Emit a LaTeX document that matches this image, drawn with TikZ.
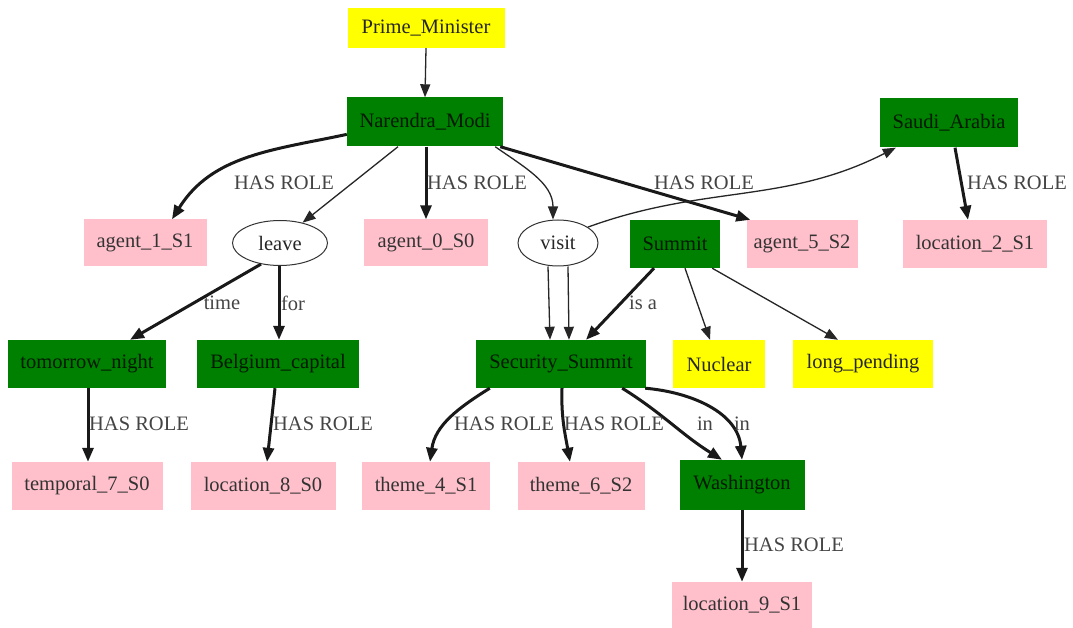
\documentclass[tikz,border=0pt]{standalone}
\usepackage{fontspec}
\setmainfont{Liberation Serif}
\newfontfamily\graphfont{Liberation Serif}
\usetikzlibrary{arrows.meta,shapes.geometric}
\definecolor{gnode}{RGB}{0,128,0}
\definecolor{pnode}{RGB}{255,192,203}
\definecolor{ynode}{RGB}{255,255,0}
\definecolor{lblgray}{RGB}{68,68,68}
\begin{document}
\begin{tikzpicture}[x=1pt,y=1pt,
  base/.style={inner sep=0pt, font=\graphfont\fontsize{20.5}{24}\selectfont, text=black!85},
  gbox/.style={base, rectangle, fill=gnode, text=black!90!green},
  pbox/.style={base, rectangle, fill=pnode, text=black!80},
  ybox/.style={base, rectangle, fill=ynode, text=black!85},
  oval/.style={base, ellipse, draw=black!80, line width=1pt, fill=white},
  lbl/.style={font=\graphfont\fontsize{20.5}{24}\selectfont, text=lblgray, inner sep=0pt},
  lightarrow/.style={draw=black!85, line width=1.3pt, -{Triangle[length=13pt,width=10pt]}},
  heavyarrow/.style={draw=black!90, line width=3pt, -{Triangle[length=14pt,width=11pt]}},
]
\useasboundingbox (0,0) rectangle (1073,-628);
\fill[white] (0,0) rectangle (1073,-628);

% nodes
\node[ybox, minimum width=157pt, minimum height=40pt] (pm) at (426,-28) {Prime\_Minister};
\node[gbox, minimum width=156pt, minimum height=49pt] (nm) at (425,-122) {Narendra\_Modi};
\node[gbox, minimum width=138pt, minimum height=49pt] (sa) at (949,-123) {Saudi\_Arabia};

\node[pbox, minimum width=123pt, minimum height=47pt] (a1) at (145,-243) {agent\_1\_S1};
\node[oval, minimum width=95pt, minimum height=45pt] (leave) at (280,-243) {leave};
\node[pbox, minimum width=124pt, minimum height=47pt] (a0) at (426,-243) {agent\_0\_S0};
\node[oval, minimum width=80pt, minimum height=46pt] (visit) at (558,-243) {visit};
\node[gbox, minimum width=90pt, minimum height=48pt] (summit) at (675,-244) {Summit};
\node[pbox, minimum width=111pt, minimum height=48pt] (a5) at (802,-244) {agent\_5\_S2};
\node[pbox, minimum width=144pt, minimum height=48pt] (l2) at (975,-244) {location\_2\_S1};

\node[gbox, minimum width=158pt, minimum height=48pt] (tn) at (87,-364) {tomorrow\_night};
\node[gbox, minimum width=162pt, minimum height=48pt] (bc) at (278,-364) {Belgium\_capital};
\node[gbox, minimum width=170pt, minimum height=48pt] (ss) at (561,-364) {Security\_Summit};
\node[ybox, minimum width=92pt, minimum height=48pt] (nuc) at (719,-364) {Nuclear};
\node[ybox, minimum width=140pt, minimum height=48pt] (lp) at (863,-364) {long\_pending};

\node[pbox, minimum width=151pt, minimum height=48pt] (t7) at (87,-486) {temporal\_7\_S0};
\node[pbox, minimum width=145pt, minimum height=48pt] (l8) at (263,-486) {location\_8\_S0};
\node[pbox, minimum width=128pt, minimum height=48pt] (t4) at (426,-486) {theme\_4\_S1};
\node[pbox, minimum width=127pt, minimum height=48pt] (t6) at (581,-486) {theme\_6\_S2};
\node[gbox, minimum width=125pt, minimum height=50pt] (wash) at (742,-485) {Washington};
\node[pbox, minimum width=140pt, minimum height=46pt] (l9) at (742,-605) {location\_9\_S1};

% connectors
\draw[lightarrow] (pm.south) -- (nm.north);
\draw[heavyarrow] (nm.189) to[out=192,in=58] ([xshift=27pt]a1.north);
\draw[lightarrow] ([xshift=-27pt]nm.south) -- (leave.42);
\draw[heavyarrow] ([xshift=1pt]nm.south) -- (a0.north);
\draw[lightarrow] ([xshift=-8pt]nm.south east) to[out=-35,in=90] ([xshift=-5pt]visit.north);
\draw[heavyarrow] ([xshift=-3pt]nm.south east) -- ([xshift=4pt]a5.north west);
\draw[lightarrow] (visit.28) to[out=20,in=207] ([xshift=16pt]sa.south west);
\draw[heavyarrow] ([xshift=6pt]sa.south) -- ([xshift=-7pt]l2.north);

\draw[heavyarrow] (leave.228) -- ([xshift=43pt]tn.north);
\draw[heavyarrow] ([xshift=-1pt]leave.south) -- ([xshift=1pt]bc.north);
\draw[lightarrow] ([xshift=-10pt]visit.south) -- ([xshift=-11pt]ss.north);
\draw[lightarrow] ([xshift=10pt]visit.south) -- ([xshift=8pt]ss.north);
\draw[heavyarrow] ([xshift=-21pt]summit.south) -- ([xshift=25pt]ss.north);
\draw[lightarrow] ([xshift=10pt]summit.south) -- ([xshift=-9pt]nuc.north);
\draw[lightarrow] ([xshift=-8pt]summit.south east) -- ([xshift=-25pt]lp.north);

\draw[heavyarrow] ([xshift=1pt]tn.south) -- ([xshift=1pt]t7.north);
\draw[heavyarrow] ([xshift=-3pt]bc.south) -- ([xshift=4pt]l8.north);
\draw[heavyarrow] ([xshift=14pt]ss.south west) to[out=212,in=82] ([xshift=4pt]t4.north);
\draw[heavyarrow] ([xshift=1pt]ss.south) to[out=-92,in=100] ([xshift=-11pt]t6.north);
\draw[heavyarrow] ([xshift=-24pt]ss.south east) to[out=-32,in=148] ([xshift=-20pt]wash.north);
\draw[heavyarrow] ([xshift=-1pt]ss.south east) to[out=-5,in=95] (wash.north);
\draw[heavyarrow] (wash.south) -- (l9.north);

% connector labels
\node[lbl] (r1) at (284,-183) {HAS ROLE};
\node[lbl] (r2) at (477,-183) {HAS ROLE};
\node[lbl] (r3) at (704,-183) {HAS ROLE};
\node[lbl] (r4) at (1017,-183) {HAS ROLE};
\node[lbl] (time) at (222,-303) {time};
\node[lbl] (for) at (293,-303) {for};
\node[lbl] (isa) at (643,-303) {is a};
\node[lbl] (r5) at (139,-424) {HAS ROLE};
\node[lbl] (r6) at (323,-424) {HAS ROLE};
\node[lbl] (r7) at (504,-424) {HAS ROLE};
\node[lbl] (r8) at (614,-424) {HAS ROLE};
\node[lbl] (in1) at (705,-424) {in};
\node[lbl] (in2) at (742,-424) {in};
\node[lbl] (r9) at (794,-545) {HAS ROLE};
\end{tikzpicture}
\end{document}
